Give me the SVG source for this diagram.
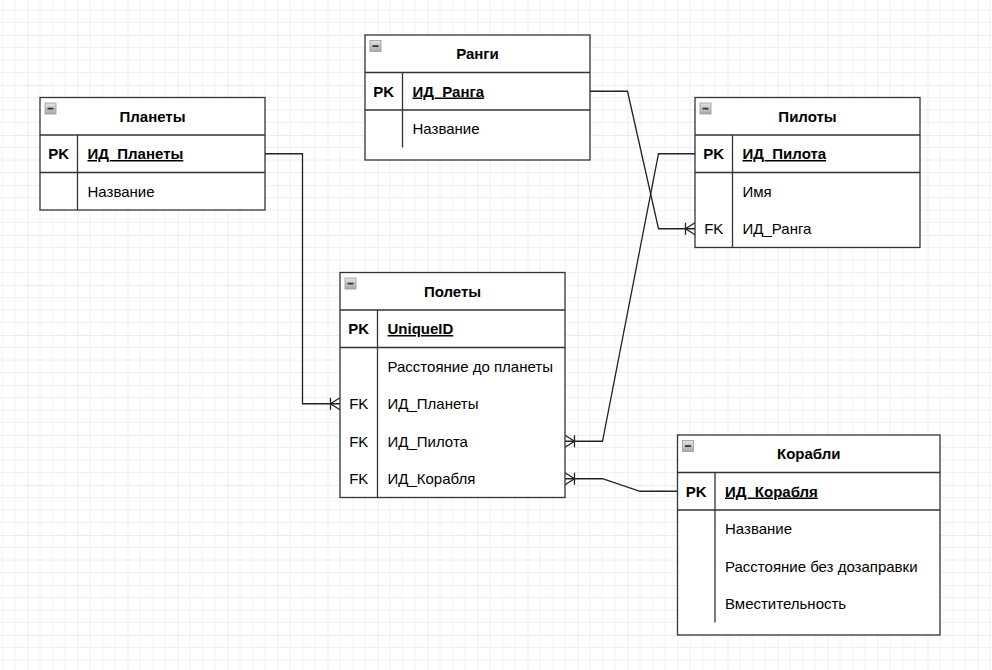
<svg xmlns="http://www.w3.org/2000/svg" width="992" height="670" viewBox="0 0 992 670">
  <defs>
    <style>
      .box { fill: #ffffff; stroke: #333333; stroke-width: 1.3; }
      .sep { fill: none; stroke: #333333; stroke-width: 1.3; }
      .title { font-family: "Liberation Sans", Arial, sans-serif; font-size: 15px; font-weight: bold; fill: #000000; text-anchor: middle; }
      .key { font-family: "Liberation Sans", Arial, sans-serif; font-size: 15px; fill: #000000; text-anchor: middle; }
      .keyb { font-family: "Liberation Sans", Arial, sans-serif; font-size: 15px; font-weight: bold; fill: #000000; text-anchor: middle; }
      .field { font-family: "Liberation Sans", Arial, sans-serif; font-size: 15px; fill: #000000; }
      .pk { font-family: "Liberation Sans", Arial, sans-serif; font-size: 15px; font-weight: bold; fill: #000000; text-decoration: underline; }
      .link { fill: none; stroke: #222222; stroke-width: 1.3; }
    </style>
    <pattern id="grid" patternUnits="userSpaceOnUse" x="-22.5" y="-15" width="50" height="50">
      <path d="M12.5,0 V50 M25,0 V50 M37.5,0 V50 M0,12.5 H50 M0,25 H50 M0,37.5 H50" stroke="#f0f0f0" stroke-width="1" fill="none"/>
      <path d="M0,0 V50 M0,0 H50" stroke="#dcdcdc" stroke-width="1" fill="none"/>
    </pattern>
    <linearGradient id="iconFill" x1="0" y1="0" x2="0" y2="1">
      <stop offset="0" stop-color="#e4e4e4"/>
      <stop offset="1" stop-color="#a8a8a8"/>
    </linearGradient>
    <!-- collapse button in table headers -->
    <g id="collapse">
      <rect x="0" y="0" width="11" height="11" fill="url(#iconFill)" stroke="#9a9a9a" stroke-width="0.8"/>
      <rect x="2.5" y="4.7" width="6" height="1.8" fill="#333333"/>
    </g>
    <!-- one-to-many crow's foot -->
    <marker id="oneMany" markerUnits="userSpaceOnUse" viewBox="-11 -8 12 16" refX="0" refY="0" markerWidth="12" markerHeight="16" orient="auto" overflow="visible">
      <path d="M0,-6 L-9.5,0 L0,6 M-9.5,-6 V6" fill="none" stroke="#222222" stroke-width="1.3"/>
    </marker>
  </defs>

  <rect x="0" y="0" width="992" height="670" fill="#ffffff"/>
  <rect x="0" y="0" width="992" height="670" fill="url(#grid)"/>

  <!-- relationships -->
  <g id="connectors">
    <path class="link" d="M265,153.75 H302.5 V403.75 H340" marker-end="url(#oneMany)"/>
    <path class="link" d="M590,91.25 H627.5 L658.5,228.75 H695" marker-end="url(#oneMany)"/>
    <path class="link" d="M695,153.75 H658.5 L602.5,441.25 H565" marker-end="url(#oneMany)"/>
    <path class="link" d="M677.5,491.25 H640 L602.5,478.75 H565" marker-end="url(#oneMany)"/>
  </g>

  <!-- Планеты -->
  <g id="planets">
    <rect class="box" x="40" y="97.5" width="225" height="112.5"/>
    <path class="sep" d="M40,135 H265 M40,172.5 H265 M77.5,135 V210"/>
    <use href="#collapse" x="45" y="103"/>
    <text class="title" x="152.5" y="121.5">Планеты</text>
    <text class="keyb" x="58.75" y="159">PK</text>
    <text class="pk" x="87.5" y="159">ИД_Планеты</text>
    <text class="field" x="87.5" y="196.5">Название</text>
  </g>

  <!-- Ранги -->
  <g id="ranks">
    <rect class="box" x="365" y="35" width="225" height="125"/>
    <path class="sep" d="M365,72.5 H590 M365,110 H590 M402.5,72.5 V147.5"/>
    <use href="#collapse" x="370" y="40.5"/>
    <text class="title" x="477.5" y="59">Ранги</text>
    <text class="keyb" x="383.75" y="96.5">PK</text>
    <text class="pk" x="412.5" y="96.5">ИД_Ранга</text>
    <text class="field" x="412.5" y="134">Название</text>
  </g>

  <!-- Пилоты -->
  <g id="pilots">
    <rect class="box" x="695" y="97.5" width="225" height="150"/>
    <path class="sep" d="M695,135 H920 M695,172.5 H920 M732.5,135 V247.5"/>
    <use href="#collapse" x="700" y="103"/>
    <text class="title" x="807.5" y="121.5">Пилоты</text>
    <text class="keyb" x="713.75" y="159">PK</text>
    <text class="pk" x="742.5" y="159">ИД_Пилота</text>
    <text class="field" x="742.5" y="196.5">Имя</text>
    <text class="key" x="713.75" y="234">FK</text>
    <text class="field" x="742.5" y="234">ИД_Ранга</text>
  </g>

  <!-- Полеты -->
  <g id="flights">
    <rect class="box" x="340" y="272.5" width="225" height="225"/>
    <path class="sep" d="M340,310 H565 M340,347.5 H565 M377.5,310 V497.5"/>
    <use href="#collapse" x="345" y="278"/>
    <text class="title" x="452.5" y="296.5">Полеты</text>
    <text class="keyb" x="358.75" y="334">PK</text>
    <text class="pk" x="387.5" y="334">UniqueID</text>
    <text class="field" x="387.5" y="371.5">Расстояние до планеты</text>
    <text class="key" x="358.75" y="409">FK</text>
    <text class="field" x="387.5" y="409">ИД_Планеты</text>
    <text class="key" x="358.75" y="446.5">FK</text>
    <text class="field" x="387.5" y="446.5">ИД_Пилота</text>
    <text class="key" x="358.75" y="484">FK</text>
    <text class="field" x="387.5" y="484">ИД_Корабля</text>
  </g>

  <!-- Корабли -->
  <g id="ships">
    <rect class="box" x="677.5" y="435" width="262.5" height="200"/>
    <path class="sep" d="M677.5,472.5 H940 M677.5,510 H940 M715,472.5 V622.5"/>
    <use href="#collapse" x="682.5" y="440.5"/>
    <text class="title" x="808.75" y="459">Корабли</text>
    <text class="keyb" x="696.25" y="496.5">PK</text>
    <text class="pk" x="725" y="496.5">ИД_Корабля</text>
    <text class="field" x="725" y="534">Название</text>
    <text class="field" x="725" y="571.5">Расстояние без дозаправки</text>
    <text class="field" x="725" y="609">Вместительность</text>
  </g>
</svg>
